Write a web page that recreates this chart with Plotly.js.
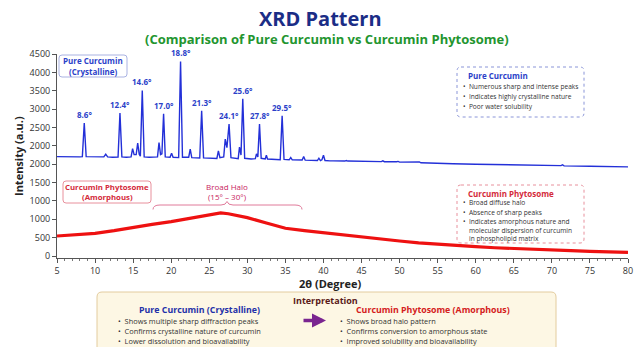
<!DOCTYPE html>
<html><head><meta charset="utf-8">
<script src="https://cdn.plot.ly/plotly-3.0.1.min.js"></script>
<style>html,body{margin:0;padding:0;background:#fff}#c{width:635px;height:347px}</style>
</head><body><div id="c"></div>
<script>
// ---- data (intensity in plotted axis units) ----
const yTickVals = [0,500,1000,1500,2000,2500,3000,3500,4000,4500,5000,5500];
const yTickText = ["0","500","1000","1000","1500","2000","2000","2500","3000","3500","4000","4500"];

const pureX = [5,6,7,8,8.33,8.58,8.83,9.5,10.5,11.15,11.4,11.65,12.3,13.02,13.27,13.52,14.1,14.73,14.93,15.13,15.4,15.6,15.8,15.95,16.2,16.45,17.1,17.7,18.2,18.4,18.6,18.78,19.0,19.22,19.85,20.05,20.25,20.98,21.23,21.48,22.3,22.5,22.7,23.75,24.0,24.25,25.3,26.0,26.2,26.4,26.9,27.1,27.32,27.6,27.85,28.8,28.97,29.17,29.4,29.65,30.5,31.05,31.2,31.38,31.6,31.82,32.35,32.5,32.65,33.6,34.32,34.57,34.82,35.5,35.7,35.9,37.2,37.4,37.6,39.2,39.4,39.6,39.8,40.0,40.2,40.85,41.05,41.25,42.8,43.0,43.2,44.0,44.2,44.4,47.6,47.8,48.0,49.6,49.8,50.0,52.4,52.6,52.8,53.8,54.0,54.2,57,60,65,71.2,71.4,71.6,75,80];
const pureY = [2707,2700,2712,2700,2705,3618,2705,2700,2695,2700,2773,2700,2690,2695,3890,2700,2690,2700,2925,2760,2760,3072,2770,2720,4507,2700,2690,2700,2700,3089,2760,2780,3871,2700,2690,2800,2690,2680,5297,2690,2690,2909,2680,2670,3953,2670,2660,2655,2863,2680,2700,3181,2950,3590,2680,2650,2963,2750,4280,2660,2640,2650,2781,2700,3590,2660,2640,2745,2640,2630,2620,3817,2630,2620,2680,2620,2615,2707,2610,2600,2664,2600,2620,2745,2600,2590,2598,2590,2585,2598,2585,2580,2582,2575,2570,2590,2568,2565,2576,2555,2545,2560,2538,2530,2545,2525,2510,2500,2480,2460,2485,2455,2445,2426];

const phytoX = [5,7.5,10,12.5,15,17.5,20,22.5,25,26.5,27.5,30,32.5,35,37.5,40,42.5,45,47.5,50,52.5,55,57.5,60,62.5,65,67.5,70,72.5,75,77.5,80];
const phytoY = [545,580,618,690,782,860,935,1030,1118,1175,1150,1044,900,755,690,630,570,515,460,409,360,318,285,254,225,200,180,164,145,128,113,100];

const peakAt = [8.58,13.27,16.2,19.0,21.23,24.0,27.6,29.4,31.6,34.57];
const peakTop = [3618,3890,4507,3871,5297,3953,3590,4280,3590,3817];
const peakLabels = ["8.6°","12.4°","14.6°","17.0°","18.8°","21.3°","24.1°","25.6°","27.8°","29.5°"];

// ---- layout helpers (pixel -> paper) ----
const L=57, R=7, T=54, B=89, W=635, H=347;
const PW=W-L-R, PH=H-T-B;
const px = x => (x-L)/PW;
const py = y => (H-B-y)/PH;
function rrect(x0,y0,x1,y1,r){
  const X=px, Y=py, rx=r/PW, ry=r/PH;
  const a=X(x0),b=X(x1),c=Y(y0),d=Y(y1);
  return `M${a+rx},${c} L${b-rx},${c} Q${b},${c} ${b},${c-ry} L${b},${d+ry} Q${b},${d} ${b-rx},${d} L${a+rx},${d} Q${a},${d} ${a},${d+ry} L${a},${c-ry} Q${a},${c} ${a+rx},${c} Z`;
}
const FONT = "Open Sans, DejaVu Sans, sans-serif";
const BLUE = "#2330d8", RED = "#ee1111", NAVY="#1b2d86", GREEN="#23952f";

const traces = [
  {x: pureX, y: pureY, type:'scatter', mode:'lines', line:{color:BLUE, width:1.4}, hoverinfo:'skip'},
  {x: phytoX, y: phytoY, type:'scatter', mode:'lines', line:{color:RED, width:3.2}, hoverinfo:'skip'}
];

const ann = [];
function txt(text, x, y, size, color, bold, xanchor){
  ann.push({text: bold? '<b>'+text+'</b>' : text, xref:'paper', yref:'paper', x:px(x), y:py(y),
    xanchor: xanchor||'center', yanchor:'middle', showarrow:false, font:{family:FONT, size:size, color:color}});
}
// titles
txt('XRD Pattern', 320, 19, 20, NAVY, true);
txt('(Comparison of Pure Curcumin vs Curcumin Phytosome)', 327, 39, 13, GREEN, true);
// peak labels
peakAt.forEach((p,i)=>ann.push({text:'<b>'+peakLabels[i]+'</b>', x:p, y:peakTop[i], xref:'x', yref:'y',
  yanchor:'bottom', yshift:1, showarrow:false, font:{family:FONT, size:8, color:'#2b3fc9'}}));
// left boxes text
txt('Pure Curcumin', 93, 60.5, 8, '#2b3fc9', true);
txt('(Crystalline)', 93, 71, 8, '#2b3fc9', true);
txt('Curcumin Phytosome', 107, 186.5, 7.8, '#d42a3a', true);
txt('(Amorphous)', 107, 197, 7.8, '#d42a3a', true);
txt('Broad Halo', 227, 186.5, 8, '#c8245e', false);
txt('(15° – 30°)', 227, 196, 8, '#c8245e', false);
// right blue box
txt('Pure Curcumin', 466, 76, 8, '#2b3fc9', true, 'left');
['Numerous sharp and intense peaks','Indicates highly crystalline nature','Poor water solubility'].forEach((s,i)=>
  txt('•  '+s, 461, 86.5+i*10, 6.6, '#333', false, 'left'));
// right red box
txt('Curcumin Phytosome', 466, 193.5, 8, '#d42a3a', true, 'left');
['Broad diffuse halo','Absence of sharp peaks','Indicates amorphous nature and'].forEach((s,i)=>
  txt('•  '+s, 461, 202.5+i*9.5, 6.6, '#333', false, 'left'));
txt('molecular dispersion of curcumin', 467, 230, 6.6, '#333', false, 'left');
txt('in phospholipid matrix', 467, 238, 6.6, '#333', false, 'left');
// interpretation box
txt('Interpretation', 325, 300, 9, '#5a1a1a', true);
txt('Pure Curcumin (Crystalline)', 199, 310, 8.8, '#2330a8', true);
txt('Curcumin Phytosome (Amorphous)', 433, 310, 8.8, '#d42020', true);
['Shows multiple sharp diffraction peaks','Confirms crystalline nature of curcumin','Lower dissolution and bioavailability'].forEach((s,i)=>
  txt('•  '+s, 116, 320.5+i*10, 7.4, '#333', false, 'left'));
['Shows broad halo pattern','Confirms conversion to amorphous state','Improved solubility and bioavailability'].forEach((s,i)=>
  txt('•  '+s, 338, 320.5+i*10, 7.4, '#333', false, 'left'));
ann.push({xref:'paper', yref:'paper', x:px(326), y:py(320.5), ax:-24, ay:0, showarrow:true, arrowhead:2, arrowsize:0.8,
  arrowwidth:3.5, arrowcolor:'#7a2590', text:''});
// axis titles
txt('Intensity (a.u.)', 18, 156, 11, '#222', true);
ann[ann.length-1].textangle = -90;
txt('2θ (Degree)', 330, 283, 11, '#222', true);

const shapes = [
  {type:'path', xref:'paper', yref:'paper', path:rrect(59,55,127,77,3), line:{color:'#a9b2e2', width:1}, fillcolor:'rgba(255,255,255,0.9)'},
  {type:'path', xref:'paper', yref:'paper', path:rrect(457,67,584,117,4), line:{color:'#8a95d8', width:1, dash:'dot'}, fillcolor:'rgba(255,255,255,0.9)'},
  {type:'path', xref:'paper', yref:'paper', path:rrect(63,181,151,203,3), line:{color:'#e8909c', width:1}, fillcolor:'rgba(255,255,255,0.9)'},
  {type:'path', xref:'paper', yref:'paper', path:rrect(457,185,584,243,4), line:{color:'#e8909c', width:1, dash:'dot'}, fillcolor:'rgba(255,255,255,0.9)'},
  {type:'path', xref:'paper', yref:'paper', path:rrect(97,292,556,360,5), line:{color:'#e3cc9e', width:1}, fillcolor:'#fdf7e4'},
  {type:'path', xref:'paper', yref:'paper', line:{color:'#e07a9a', width:1},
   path:`M${px(153)},${py(209.5)} Q${px(153)},${py(205)} ${px(160)},${py(205)} L${px(221)},${py(205)} Q${px(226)},${py(205)} ${px(227)},${py(201.5)} Q${px(228)},${py(205)} ${px(233)},${py(205)} L${px(295)},${py(205)} Q${px(302)},${py(205)} ${px(302)},${py(209.5)}`}
];

const layout = {
  width:W, height:H, margin:{l:L, r:R, t:T, b:B}, showlegend:false,
  paper_bgcolor:'#fff', plot_bgcolor:'#fff',
  font:{family:FONT, color:'#333'},
  xaxis:{range:[5,80], dtick:5, tick0:5, showgrid:false, zeroline:false, showline:true, linecolor:'#555', linewidth:1,
    ticks:'outside', ticklen:4, tickcolor:'#555', tickfont:{family:FONT, size:9, color:'#333'},
    minor:{dtick:1, ticks:'outside', ticklen:2, tickcolor:'#777'}},
  yaxis:{range:[-54,5500], tickvals:yTickVals, ticktext:yTickText, showgrid:false, zeroline:false, showline:true,
    linecolor:'#555', linewidth:1, ticks:'outside', ticklen:4, tickcolor:'#555', tickfont:{family:FONT, size:9, color:'#333'}},
  annotations: ann, shapes: shapes
};
Plotly.newPlot('c', traces, layout, {staticPlot:true, displayModeBar:false});
</script></body></html>
